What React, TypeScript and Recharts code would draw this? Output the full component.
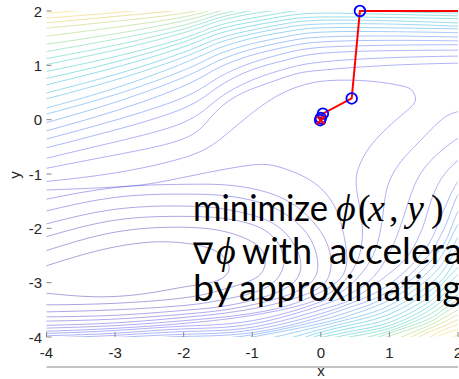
import React from "react";
import { ComposedChart, Line, Scatter, XAxis, YAxis } from "recharts";

type P = [number, number];

const xTicks = [-4, -3, -2, -1, 0, 1, 2];
const yTicks = [-4, -3, -2, -1, 0, 1, 2];

// iterates of the method (red path + blue circles), path enters from the right edge
const iterX = [2, 0.57, 0.45, 0.03, 0.0, -0.01];
const iterY = [2, 2.0, 0.39, 0.11, 0.03, -0.01];
const minX = [0];
const minY = [-0.01];

// contour lines, lowest level first
const b1: P[] = [[-4.1,-2.73],[-3.28,-2.42],[-2.55,-2.26],[-2,-2.27],[-1.6,-2.38],[-1.38,-2.58],[-1.35,-2.8],[-1.55,-2.98],[-2,-3.08],[-2.55,-3.2],[-3.28,-3.26],[-4.1,-3.18]];
const b2: P[] = [[-4.1,-2.45],[-3,-2.07],[-2,-1.98],[-1.4,-2.06],[-1.0,-2.25],[-0.82,-2.5],[-0.84,-2.77],[-1.04,-2.97],[-1.5,-3.15],[-2,-3.28],[-3,-3.38],[-4.1,-3.41]];
const b3: P[] = [[-4.1,-2.19],[-3,-1.85],[-2,-1.78],[-1.4,-1.82],[-0.9,-1.98],[-0.62,-2.28],[-0.54,-2.62],[-0.64,-2.93],[-0.95,-3.17],[-1.5,-3.33],[-2,-3.42],[-3,-3.5],[-4.1,-3.54]];
const b4: P[] = [[-4.1,-1.95],[-3,-1.65],[-2,-1.59],[-1.43,-1.64],[-0.89,-1.8],[-0.53,-2.07],[-0.33,-2.45],[-0.3,-2.78],[-0.45,-3.05],[-0.85,-3.27],[-1.4,-3.43],[-2,-3.51],[-3,-3.6],[-4.1,-3.63]];
const b5: P[] = [[-4.1,-1.71],[-3,-1.43],[-2,-1.37],[-1.4,-1.4],[-0.9,-1.52],[-0.5,-1.75],[-0.2,-2.1],[-0.06,-2.5],[-0.07,-2.86],[-0.3,-3.13],[-0.8,-3.35],[-1.4,-3.5],[-2,-3.58],[-3,-3.67],[-4.1,-3.71]];
const b6: P[] = [[-4.1,-1.49],[-3,-1.25],[-2,-1.19],[-1.4,-1.2],[-0.89,-1.3],[-0.45,-1.52],[-0.12,-1.87],[0.08,-2.25],[0.15,-2.65],[0.06,-3.0],[-0.25,-3.23],[-0.8,-3.43],[-1.4,-3.56],[-2,-3.64],[-3,-3.74],[-4.1,-3.79]];
const c1: P[] = [[-4.1,-1.3],[-3,-1.24],[-2.4,-1.16],[-1.76,-1.0],[-1.04,-0.84],[-0.64,-0.86],[-0.26,-1.04],[0.03,-1.3],[0.23,-1.67],[0.33,-2.09],[0.38,-2.55],[0.3,-2.9],[0.02,-3.16],[-0.5,-3.43],[-1.2,-3.6],[-2,-3.7],[-3,-3.79],[-4.1,-3.84]];
const o1: P[] = [[-4.1,-1.15],[-3,-0.98],[-2,-0.7],[-1.53,-0.42],[-1.2,-0.08],[-0.74,0.36],[-0.3,0.62],[0.13,0.72],[0.71,0.71],[1.15,0.63],[1.32,0.55],[1.38,0.4],[1.32,0.24],[1.1,0.0],[0.85,-0.3],[0.66,-0.6],[0.53,-0.97],[0.53,-1.35],[0.6,-1.9],[0.58,-2.4],[0.42,-2.85],[0.05,-3.25],[-0.5,-3.48],[-1.2,-3.64],[-2,-3.75],[-3,-3.84],[-4.1,-3.9]];

const o2u: P[] = [[-4.1,-0.92],[-3,-0.65],[-2,-0.35],[-1.6,0.05],[-1.25,0.42],[-0.8,0.66],[-0.4,0.83],[0,0.91],[1,1.0],[2,1.04],[2.15,1.04]];
const o3u: P[] = [[-4.1,-0.74],[-3,-0.41],[-2,-0.05],[-1.5,0.38],[-1,0.73],[-0.5,0.94],[0,1.06],[1,1.14],[2,1.17],[2.15,1.17]];
const o4u: P[] = [[-4.1,-0.55],[-3,-0.19],[-2,0.21],[-1.5,0.6],[-1,0.92],[-0.5,1.1],[0,1.22],[1,1.27],[2,1.28],[2.15,1.28]];
const o5u: P[] = [[-4.1,-0.39],[-3,-0.01],[-2,0.41],[-1.5,0.77],[-1,1.05],[-0.5,1.23],[0,1.33],[1,1.37],[2,1.38],[2.15,1.38]];
const o6u: P[] = [[-4.1,-0.24],[-3,0.16],[-2,0.62],[-1.5,0.95],[-1,1.19],[-0.5,1.34],[0,1.43],[1,1.46],[2,1.45],[2.15,1.45]];
const o7u: P[] = [[-4.1,-0.09],[-3,0.32],[-2,0.78],[-1.5,1.08],[-1,1.3],[-0.5,1.44],[0,1.52],[1,1.54],[2,1.52],[2.15,1.51]];
const o8u: P[] = [[-4.1,0.07],[-3,0.46],[-2,0.91],[-1.5,1.2],[-1,1.4],[-0.5,1.53],[0,1.61],[1,1.62],[2,1.6],[2.15,1.59]];
const o9u: P[] = [[-4.1,0.18],[-3,0.58],[-2,1.04],[-1.5,1.31],[-1,1.5],[-0.5,1.62],[0,1.69],[1,1.69],[2,1.67],[2.15,1.66]];
const o10u: P[] = [[-4.1,0.35],[-3,0.73],[-2,1.15],[-1.5,1.41],[-1,1.58],[-0.5,1.7],[0,1.76],[1,1.76],[2,1.72],[2.15,1.71]];
const o11u: P[] = [[-4.1,0.46],[-3,0.83],[-2,1.24],[-1.5,1.49],[-1,1.65],[-0.5,1.77],[0,1.83],[1,1.82],[2,1.78],[2.15,1.77]];
const o12u: P[] = [[-4.1,0.61],[-3,0.96],[-2,1.34],[-1.5,1.58],[-1,1.73],[-0.5,1.84],[0,1.89],[1,1.88],[2,1.86],[2.15,1.85]];
const o13u: P[] = [[-4.1,0.73],[-3,1.06],[-2,1.43],[-1.5,1.66],[-1,1.8],[-0.5,1.91],[0,1.96],[1,1.94],[2,1.91],[2.15,1.9]];
const o14u: P[] = [[-4.1,0.86],[-3,1.16],[-2,1.5],[-1.5,1.73],[-1,1.87],[-0.5,1.98],[0,2.03],[1,1.99],[2,1.96],[2.15,1.95]];
const o15u: P[] = [[-4.1,0.99],[-3,1.28],[-2,1.6],[-1.5,1.81],[-1,1.95],[-0.5,2.04],[0,2.1]];
const o16u: P[] = [[-4.1,1.1],[-3,1.37],[-2,1.67],[-1.5,1.87],[-1,2.01],[-0.5,2.1]];
const o17u: P[] = [[-4.1,1.23],[-3,1.48],[-2,1.74],[-1.5,1.93],[-1,2.07]];
const o18u: P[] = [[-4.1,1.37],[-3,1.58],[-2,1.82],[-1.5,1.99],[-1,2.14]];
const o19u: P[] = [[-4.1,1.52],[-3,1.7],[-2,1.89],[-1.5,2.06]];
const o20u: P[] = [[-4.1,1.67],[-3,1.81],[-2,1.96],[-1.5,2.12]];
const o21u: P[] = [[-4.1,1.77],[-3,1.9],[-2,2.03],[-1.5,2.18]];
const o22u: P[] = [[-4.1,1.86],[-3,1.97],[-2,2.1]];
const o23u: P[] = [[-4.1,1.95],[-3,2.06],[-2,2.18]];

const o2l: P[] = [[2.15,0.27],[2,0.15],[1.78,0.02],[1.44,-0.4],[1.15,-0.8],[0.98,-1.2],[0.92,-1.6],[0.86,-2.1],[0.72,-2.6],[0.45,-3.02],[0,-3.35],[-1,-3.7],[-2,-3.8],[-3,-3.88],[-4.1,-3.94]];
const o3l: P[] = [[2.15,-0.22],[2,-0.34],[1.73,-0.6],[1.45,-1.0],[1.28,-1.5],[1.15,-2.0],[0.98,-2.5],[0.7,-2.98],[0.35,-3.25],[0,-3.42],[-1,-3.76],[-2,-3.85],[-3,-3.93],[-4.1,-3.98]];
const o4l: P[] = [[2.15,-0.62],[2,-0.75],[1.75,-1.1],[1.58,-1.6],[1.48,-2.0],[1.3,-2.45],[1,-2.83],[0.5,-3.27],[0,-3.5],[-1,-3.82],[-2,-3.9],[-3,-3.97],[-4.1,-4.02]];
const o5l: P[] = [[2.15,-1.0],[2,-1.14],[1.85,-1.5],[1.7,-1.95],[1.5,-2.42],[1,-3.03],[0.5,-3.35],[0,-3.57],[-1,-3.87],[-2,-3.95],[-3,-4.01],[-3.5,-4.04]];
const o6l: P[] = [[2.15,-1.25],[2,-1.38],[1.85,-1.85],[1.7,-2.25],[1.5,-2.6],[1,-3.15],[0.5,-3.42],[0,-3.63],[-1,-3.92],[-2,-3.99],[-2.6,-4.04]];
const o7l: P[] = [[2.15,-1.55],[2,-1.69],[1.85,-2.15],[1.7,-2.45],[1.5,-2.74],[1,-3.23],[0.5,-3.5],[0,-3.69],[-1,-3.96],[-1.8,-4.04]];
const o8l: P[] = [[2.15,-1.78],[2,-1.93],[1.8,-2.42],[1.5,-2.88],[1,-3.32],[0.5,-3.57],[0,-3.75],[-1,-4.0],[-1.3,-4.04]];
const o9l: P[] = [[2.15,-2.02],[2,-2.17],[1.8,-2.6],[1.5,-3.0],[1,-3.42],[0.5,-3.64],[0,-3.8],[-0.8,-4.04]];
const o10l: P[] = [[2.15,-2.2],[2,-2.35],[1.8,-2.75],[1.5,-3.12],[1,-3.5],[0.5,-3.7],[0,-3.86],[-0.5,-4.04]];
const o11l: P[] = [[2.15,-2.38],[2,-2.53],[1.8,-2.9],[1.5,-3.23],[1,-3.58],[0.5,-3.76],[0,-3.91],[-0.3,-4.04]];
const o12l: P[] = [[2.15,-2.57],[2,-2.72],[1.75,-3.05],[1.5,-3.33],[1,-3.66],[0.5,-3.82],[0,-3.96],[-0.15,-4.04]];
const o13l: P[] = [[2.15,-2.71],[2,-2.85],[1.75,-3.16],[1.5,-3.42],[1,-3.73],[0.5,-3.88],[0,-4.01],[-0.1,-4.04]];
const o14l: P[] = [[2.15,-2.85],[2,-2.98],[1.75,-3.26],[1.5,-3.5],[1,-3.79],[0.5,-3.93],[0.1,-4.04]];
const o15l: P[] = [[2.15,-2.97],[2,-3.09],[1.75,-3.35],[1.5,-3.57],[1,-3.84],[0.5,-3.98],[0.3,-4.04]];
const o16l: P[] = [[2.15,-3.1],[2,-3.22],[1.75,-3.45],[1.5,-3.64],[1,-3.89],[0.55,-4.04]];
const o17l: P[] = [[2.15,-3.2],[2,-3.31],[1.75,-3.53],[1.5,-3.71],[1,-3.93],[0.75,-4.04]];
const o18l: P[] = [[2.15,-3.3],[2,-3.4],[1.75,-3.6],[1.5,-3.77],[1,-3.98],[0.9,-4.04]];
const o19l: P[] = [[2.15,-3.4],[2,-3.5],[1.75,-3.68],[1.5,-3.83],[1.1,-4.04]];
const o20l: P[] = [[2.15,-3.5],[2,-3.59],[1.75,-3.75],[1.5,-3.89],[1.25,-4.04]];
const o21l: P[] = [[2.15,-3.6],[2,-3.68],[1.75,-3.82],[1.5,-3.95],[1.4,-4.04]];
const o22l: P[] = [[2.15,-3.7],[2,-3.77],[1.75,-3.89],[1.55,-4.04]];
const o23l: P[] = [[2.15,-3.8],[2,-3.86],[1.75,-3.96],[1.68,-4.04]];
const o24l: P[] = [[2.15,-3.9],[2,-3.96],[1.85,-4.04]];

// level of each traced line (index into the colour scale)
const contours: { pts: P[]; level: number }[] = [
  { pts: b1, level: 0 }, { pts: b2, level: 1 }, { pts: b3, level: 2 }, { pts: b4, level: 3 },
  { pts: b5, level: 4 }, { pts: b6, level: 5 }, { pts: c1, level: 6 }, { pts: o1, level: 7 },
  { pts: o2u, level: 8 }, { pts: o2l, level: 8 }, { pts: o3u, level: 9 }, { pts: o3l, level: 9 },
  { pts: o4u, level: 10 }, { pts: o4l, level: 10 }, { pts: o5u, level: 11 }, { pts: o5l, level: 11 },
  { pts: o6u, level: 12 }, { pts: o6l, level: 12 }, { pts: o7u, level: 13 }, { pts: o7l, level: 13 },
  { pts: o8u, level: 14 }, { pts: o8l, level: 14 }, { pts: o9u, level: 15 }, { pts: o9l, level: 15 },
  { pts: o10u, level: 16 }, { pts: o10l, level: 16 }, { pts: o11u, level: 17 }, { pts: o11l, level: 17 },
  { pts: o12u, level: 18 }, { pts: o12l, level: 18 }, { pts: o13u, level: 19 }, { pts: o13l, level: 19 },
  { pts: o14u, level: 20 }, { pts: o14l, level: 20 }, { pts: o15u, level: 21 }, { pts: o15l, level: 21 },
  { pts: o16u, level: 22 }, { pts: o16l, level: 22 }, { pts: o17u, level: 23 }, { pts: o17l, level: 23 },
  { pts: o18u, level: 24 }, { pts: o18l, level: 24 }, { pts: o19u, level: 25 }, { pts: o19l, level: 25 },
  { pts: o20u, level: 26 }, { pts: o20l, level: 26 }, { pts: o21u, level: 27 }, { pts: o21l, level: 27 },
  { pts: o22u, level: 28 }, { pts: o22l, level: 28 }, { pts: o23u, level: 29 }, { pts: o23l, level: 29 },
  { pts: o24l, level: 30 },
];

// parula-like colours per level
const levelColors = [
  "#3e26a8", "#3f2bb3", "#402fbe", "#4233c7", "#4337cf", "#443bd7", "#4540de",
  "#4545e6", "#4649ec", "#464ff0", "#4555f4", "#4160f8", "#3a6cf8", "#2f7cf2",
  "#288aeb", "#2498e5", "#1ca5e0", "#12aed8", "#09b4d0", "#0cb9c4", "#16bdb8",
  "#22c2ab", "#2ec7a1", "#4aca8c", "#6acb70", "#8ecb55", "#b2c541", "#d8bb32",
  "#f0c03a", "#f6d22c", "#f6e520",
];

const AX = "#858585";
const TXT = "#262626";
const TICK_FONT = "'Liberation Sans', Arial, Helvetica, sans-serif";
const L = 46.5, R = 458, T = 11, B = 337;

const toPts = (a: P[]) => a.map(([x, y]) => ({ x, y }));
const pathPts = iterX.map((x, i) => ({ x, y: iterY[i] }));
const circlePts = pathPts.slice(1);
const minPts = minX.map((x, i) => ({ x, y: minY[i] }));

const BottomTick = (p: any) => (
  <g>
    <line x1={p.x} x2={p.x} y1={B} y2={B - 5} stroke={AX} />
    <text x={p.x} y={352} textAnchor="middle" dominantBaseline="central" fontSize={15} fill={TXT} fontFamily={TICK_FONT}>
      {p.payload.value}
    </text>
  </g>
);
const LeftTick = (p: any) => (
  <g>
    <line x1={L} x2={L + 5} y1={p.y} y2={p.y} stroke={AX} />
    <text x={42} y={p.y} textAnchor="end" dominantBaseline="central" fontSize={15} fill={TXT} fontFamily={TICK_FONT}>
      {p.payload.value}
    </text>
  </g>
);
const TopTick = (p: any) => <line x1={p.x} x2={p.x} y1={T} y2={T + 5} stroke={AX} />;
const RightTick = (p: any) => <line x1={R} x2={R - 5} y1={p.y} y2={p.y} stroke={AX} />;

const BlueCircle = (p: any) => (
  <circle cx={p.cx} cy={p.cy} r={5.3} fill="none" stroke="#0000ff" strokeWidth={1.8} />
);
const RedCross = (p: any) => (
  <g stroke="#ff0000" strokeWidth={2}>
    <line x1={p.cx - 4} y1={p.cy - 4} x2={p.cx + 4} y2={p.cy + 4} />
    <line x1={p.cx - 4} y1={p.cy + 4} x2={p.cx + 4} y2={p.cy - 4} />
  </g>
);

const SANS = "Lato, 'DejaVu Sans', sans-serif";
const MATH = "'Liberation Serif', 'DejaVu Serif', serif";

export default function App() {
  return (
    <div style={{ position: "absolute", left: 0, top: 0, width: 459, height: 379, overflow: "hidden", background: "#fff" }}>
      <ComposedChart width={459} height={379} margin={{ top: T, right: 459 - R, bottom: 0, left: 0.5 }}>
        <XAxis xAxisId="main" dataKey="x" type="number" domain={[-4, 2]} ticks={xTicks} interval={0}
          allowDataOverflow height={42} axisLine={{ stroke: AX }} tickLine={false} tick={BottomTick} />
        <YAxis yAxisId="main" dataKey="y" type="number" domain={[-4, 2]} ticks={yTicks} interval={0}
          allowDataOverflow width={46} axisLine={{ stroke: AX }} tickLine={false} tick={LeftTick} />
        <XAxis xAxisId="top" orientation="top" type="number" domain={[-4, 2]} ticks={xTicks} interval={0}
          allowDataOverflow height={0} axisLine={{ stroke: AX }} tickLine={false} tick={TopTick} />
        <YAxis yAxisId="right" orientation="right" type="number" domain={[-4, 2]} ticks={yTicks} interval={0}
          allowDataOverflow width={0} axisLine={{ stroke: AX }} tickLine={false} tick={RightTick} />
        <XAxis xAxisId="m" dataKey="x" type="number" domain={[-4, 2]} hide />
        <YAxis yAxisId="m" dataKey="y" type="number" domain={[-4, 2]} hide />

        {contours.map((c, i) => (
          <Line key={`c${i}`} xAxisId="main" yAxisId="main" data={toPts(c.pts)} dataKey="y" type="natural"
            stroke={levelColors[c.level]} strokeWidth={0.6} strokeOpacity={0.72} dot={false} activeDot={false}
            isAnimationActive={false} legendType="none" />
        ))}

        <Line xAxisId="m" yAxisId="m" data={pathPts} dataKey="y" type="linear" stroke="#ff0000" strokeWidth={2}
          dot={false} activeDot={false} isAnimationActive={false} legendType="none" />
        <Scatter xAxisId="m" yAxisId="m" data={circlePts} dataKey="y" shape={BlueCircle} isAnimationActive={false} legendType="none" />
        <Scatter xAxisId="m" yAxisId="m" data={minPts} dataKey="y" shape={RedCross} isAnimationActive={false} legendType="none" />
      </ComposedChart>

      <svg width={459} height={379} style={{ position: "absolute", left: 0, top: 0, pointerEvents: "none" }}>
        <text x={321} y={376} textAnchor="middle" fontSize={15} fill={TXT} fontFamily={TICK_FONT}>x</text>
        <text x={0} y={0} transform="translate(20,175) rotate(-90)" textAnchor="middle" fontSize={15} fill={TXT} fontFamily={TICK_FONT}>y</text>

        <g fill="#000" fontSize={36}>
          <text x={193} y={221} fontFamily={SANS} textLength={135} lengthAdjust="spacingAndGlyphs">minimize</text>
          <text y={221} fontFamily={MATH} fontSize={38}>
            <tspan x={336} fontStyle="italic">ϕ</tspan>
            <tspan x={358}>(</tspan>
            <tspan x={368} fontStyle="italic">x</tspan>
            <tspan x={389}>,</tspan>
            <tspan x={407} fontStyle="italic">y</tspan>
            <tspan x={431}>)</tspan>
          </text>

          <text x={193} y={264} fontFamily="'DejaVu Sans', sans-serif" fontSize={30}>∇</text>
          <text x={216} y={264} fontFamily={MATH} fontStyle="italic" fontSize={38}>ϕ</text>
          <text x={242} y={264} fontFamily={SANS} textLength={70} lengthAdjust="spacingAndGlyphs">with</text>
          <text x={329} y={264} fontFamily={SANS} textLength={198} lengthAdjust="spacingAndGlyphs">acceleration</text>

          <text x={193} y={301} fontFamily={SANS} textLength={40} lengthAdjust="spacingAndGlyphs">by</text>
          <text x={239} y={301} fontFamily={SANS} textLength={222} lengthAdjust="spacingAndGlyphs">approximating</text>
        </g>
      </svg>
    </div>
  );
}
